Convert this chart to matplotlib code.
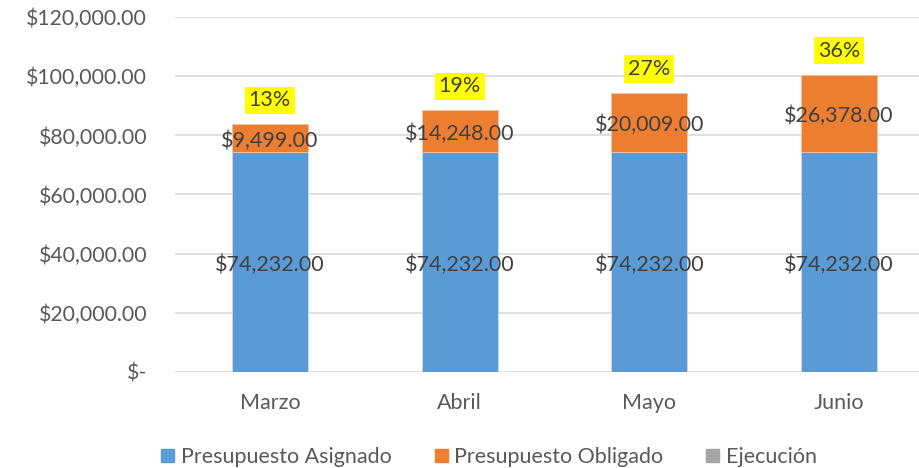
import matplotlib.pyplot as plt
from matplotlib.patches import Patch

# Data
meses = ["Marzo", "Abril", "Mayo", "Junio"]
asignado = [74232, 74232, 74232, 74232]
obligado = [9499, 14248, 20009, 26378]
ejecucion = [0, 0, 0, 0]
porcentajes = ["13%", "19%", "27%", "36%"]
yticks = [0, 20000, 40000, 60000, 80000, 100000, 120000]

azul = "#5B9BD5"
naranja = "#ED7D31"
gris = "#A5A5A5"
texto = "#595959"
etiqueta = "#404040"

plt.rcParams["font.family"] = ["Lato", "DejaVu Sans"]


def money(v):
    if v == 0:
        return "$-"
    return "${:,.2f}".format(v)


fig = plt.figure(figsize=(9.2, 4.68), dpi=100)
ax = fig.add_axes([175 / 920, (468 - 371.7) / 468, 745 / 920, 354.4 / 468])

x = list(range(len(meses)))
ax.bar(x, asignado, width=0.4, color=azul, edgecolor="#C9DCEF", linewidth=0.6, zorder=3)
ax.bar(x, obligado, width=0.4, bottom=asignado, color=naranja,
       edgecolor="#F5C3A0", linewidth=0.6, zorder=3)
totals = [a + o for a, o in zip(asignado, obligado)]
ax.bar(x, ejecucion, width=0.4, bottom=totals, color=gris, zorder=3)

# data labels, nudged a little down like the original
for i in x:
    ax.annotate(money(asignado[i]), (i, asignado[i] / 2), xytext=(0, -3),
                textcoords="offset pixels", ha="center", va="center",
                fontsize=15.5, color=etiqueta, zorder=4)
    ax.annotate(money(obligado[i]), (i, asignado[i] + obligado[i] / 2),
                xytext=(0, -2), textcoords="offset pixels", ha="center",
                va="center", fontsize=15.5, color=etiqueta, zorder=4)
    ax.annotate(porcentajes[i], (i, totals[i]), xytext=(0, 24),
                textcoords="offset pixels", ha="center", va="center",
                fontsize=15.5, color=etiqueta, zorder=4,
                bbox=dict(boxstyle="square,pad=0.18", fc="#FFFF00", ec="none"))

ax.set_xlim(-0.5, 3.5 - 14 / 189.7)
ax.set_ylim(0, 120000)
ax.set_yticks(yticks)
ax.set_yticklabels([money(v) for v in yticks])
ax.set_xticks(x)
ax.set_xticklabels(meses)
ax.tick_params(axis="y", length=0, pad=20, labelsize=15.3, labelcolor=texto)
ax.tick_params(axis="x", length=0, pad=15, labelsize=15.5, labelcolor=texto)
ax.grid(axis="y", color="#D9D9D9", linewidth=1.2, zorder=0)
for s in ax.spines.values():
    s.set_visible(False)

handles = [Patch(color=azul), Patch(color=naranja), Patch(color=gris)]
fig.legend(handles, ["Presupuesto Asignado", "Presupuesto Obligado", "Ejecución"],
           loc="center", bbox_to_anchor=(489 / 920, 1 - 457 / 468), ncol=3,
           frameon=False, fontsize=15.5, handlelength=0.6, handleheight=0.6,
           handletextpad=0.3, columnspacing=2.0, labelcolor=texto)

fig.savefig("out.png", dpi=100)
